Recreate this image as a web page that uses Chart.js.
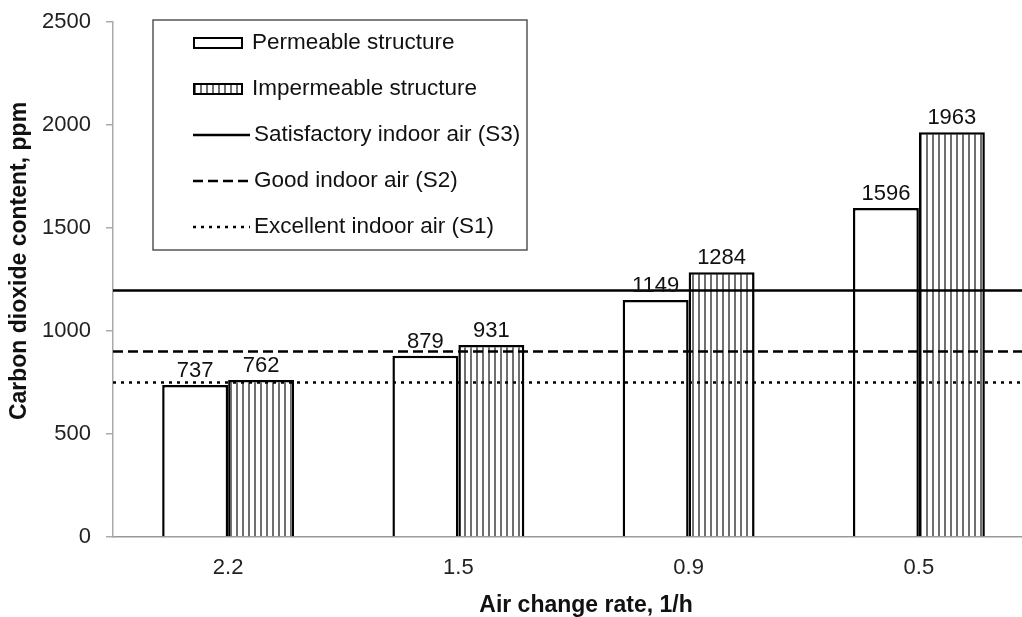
<!DOCTYPE html>
<html>
<head>
<meta charset="utf-8">
<script src="https://cdn.jsdelivr.net/npm/chart.js@4.4.1/dist/chart.umd.min.js"></script>
<style>
  html, body { margin: 0; padding: 0; background: #fff; overflow: hidden; }
  #wrap { position: absolute; left: 0; top: 0; width: 1034px; height: 617px; }
</style>
</head>
<body>
<div id="wrap"><canvas id="chart"></canvas></div>
<script>
const categories = ['2.2', '1.5', '0.9', '0.5'];
const permeable = [737, 879, 1149, 1596];
const impermeable = [762, 931, 1284, 1963];
const yTicks = [0, 500, 1000, 1500, 2000, 2500];

const limitNames = ['Satisfactory indoor air (S3)', 'Good indoor air (S2)', 'Excellent indoor air (S1)'];
const limitValues = [1200, 900, 750];
const limitDash = [[], [10, 5], [3, 5]];

const xTitle = 'Air change rate, 1/h';
const yTitle = 'Carbon dioxide content, ppm';

const FONT = "'Liberation Sans', Arial, sans-serif";

// vertical stripe fill for the impermeable bars
function stripes() {
  const c = document.createElement('canvas');
  c.width = 6; c.height = 6;
  const g = c.getContext('2d');
  g.fillStyle = '#fff';
  g.fillRect(0, 0, 6, 6);
  g.fillStyle = '#707070';
  g.fillRect(2, 0, 2, 6);
  return g.createPattern(c, 'repeat');
}
const stripeFill = stripes();

const limitLines = {
  id: 'limitLines',
  afterDatasetsDraw(chart) {
    const {ctx, chartArea} = chart;
    const y = chart.scales.y;
    ctx.save();
    ctx.strokeStyle = '#000';
    ctx.lineWidth = 2.5;
    limitValues.forEach((v, i) => {
      const py = Math.round(y.getPixelForValue(v)) + 0.5;
      ctx.setLineDash(limitDash[i]);
      ctx.beginPath();
      ctx.moveTo(chartArea.left, py);
      ctx.lineTo(chartArea.right, py);
      ctx.stroke();
    });
    ctx.restore();

    // value labels above the bars
    ctx.save();
    ctx.font = '22px ' + FONT;
    ctx.fillStyle = '#111';
    ctx.textAlign = 'center';
    ctx.textBaseline = 'bottom';
    chart.data.datasets.forEach((ds, di) => {
      chart.getDatasetMeta(di).data.forEach((bar, i) => {
        ctx.fillText(String(ds.data[i]), bar.x, bar.y - 3);
      });
    });
    ctx.restore();
  },
  afterDraw(chart) {
    const {ctx} = chart;

    // axis titles, placed like the original figure
    ctx.save();
    ctx.font = 'bold 23px ' + FONT;
    ctx.fillStyle = '#111';
    ctx.textAlign = 'center';
    ctx.textBaseline = 'middle';
    ctx.fillText(xTitle, 586, 606);
    ctx.translate(20, 261);
    ctx.rotate(-Math.PI / 2);
    ctx.fillText(yTitle, 0, 0);
    ctx.restore();

    // legend box
    const bx = 153, by = 20, bw = 374, bh = 230;
    ctx.save();
    ctx.fillStyle = '#fff';
    ctx.fillRect(bx, by, bw, bh);
    ctx.strokeStyle = '#555';
    ctx.lineWidth = 1.5;
    ctx.strokeRect(bx, by, bw, bh);

    const rowY = (k) => 43 + k * 46;
    ctx.font = '22.5px ' + FONT;
    ctx.textBaseline = 'middle';
    ctx.textAlign = 'left';

    chart.data.datasets.forEach((ds, k) => {
      const ry = rowY(k);
      ctx.fillStyle = ds.backgroundColor;
      ctx.fillRect(194, ry - 5, 48, 10);
      ctx.strokeStyle = '#000';
      ctx.lineWidth = 2;
      ctx.strokeRect(194, ry - 5, 48, 10);
      ctx.fillStyle = '#111';
      ctx.fillText(ds.label, 252, ry);
    });
    limitNames.forEach((name, i) => {
      const ry = rowY(i + 2);
      ctx.strokeStyle = '#000';
      ctx.lineWidth = 2.5;
      ctx.setLineDash(limitDash[i]);
      ctx.beginPath();
      ctx.moveTo(193, ry);
      ctx.lineTo(250, ry);
      ctx.stroke();
      ctx.setLineDash([]);
      ctx.fillStyle = '#111';
      ctx.fillText(name, 254, ry);
    });
    ctx.restore();
  }
};

new Chart(document.getElementById('chart'), {
  type: 'bar',
  data: {
    labels: categories,
    datasets: [{
      label: 'Permeable structure',
      data: permeable,
      backgroundColor: '#fff',
      borderColor: '#000',
      borderWidth: 2.5
    }, {
      label: 'Impermeable structure',
      data: impermeable,
      backgroundColor: stripeFill,
      borderColor: '#000',
      borderWidth: 2.5
    }]
  },
  options: {
    responsive: true,
    maintainAspectRatio: false,
    animation: false,
    devicePixelRatio: 1,
    datasets: {
      bar: { categoryPercentage: 0.573, barPercentage: 1 }
    },
    layout: { padding: { top: 21, left: 0, right: 0, bottom: 0 } },
    plugins: {
      legend: { display: false },
      tooltip: { enabled: false }
    },
    scales: {
      x: {
        grid: { display: false, drawTicks: false },
        border: { display: true, color: '#999', width: 1.5 },
        ticks: { color: '#222', padding: 18, font: { size: 22, family: FONT } },
        afterFit(s) { s.height = 80; }
      },
      y: {
        min: yTicks[0],
        max: yTicks[yTicks.length - 1],
        afterBuildTicks(s) { s.ticks = yTicks.map(v => ({value: v})); },
        ticks: {
          color: '#222',
          padding: 15,
          font: { size: 22, family: FONT, lineHeight: 0.6 },
          callback: (v) => String(v)
        },
        grid: { drawOnChartArea: false, drawTicks: true, tickLength: 7, color: '#aaa', lineWidth: 1.5 },
        border: { color: '#aaa', width: 1.5 },
        afterFit(s) { s.width = 113; }
      }
    }
  },
  plugins: [limitLines]
});
</script>
</body>
</html>
